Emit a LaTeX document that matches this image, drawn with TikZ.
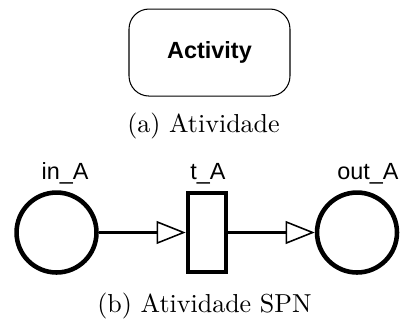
\documentclass[tikz,border=0pt]{standalone}
\usepackage{fontspec}
\newfontfamily\arialfont{Liberation Sans}
\usepackage{tikz}
\usetikzlibrary{arrows.meta, positioning}

\begin{document}
\begin{tikzpicture}[
    activity/.style={rectangle, draw, rounded corners=0.27cm, line width=0.4pt, minimum width=2.176cm, minimum height=1.176cm, font=\arialfont\bfseries\fontsize{9}{10}\selectfont},
    place/.style={circle, draw, line width=1.75pt, minimum size=1.081cm, inner sep=0pt},
    trans/.style={rectangle, draw, line width=1.75pt, minimum width=0.514cm, minimum height=1.068cm, inner sep=0pt},
    lbl/.style={anchor=base, inner sep=0pt, font=\arialfont\fontsize{9}{10}\selectfont},
    caption/.style={anchor=base, inner sep=0pt},
    arc/.style={-{Triangle[open, length=11.2pt, width=8.8pt, line width=0.6pt]}, line width=1.3pt}
    ]
    \useasboundingbox (0,0) rectangle (5.488,-4.380);

    % Activity
    \node[activity] (act) at (2.832,-0.710) {Activity};
    \node[caption] (cap_a) at (2.751,-1.791) {(a) Atividade};

    % Places and transition
    \node[place] (in_A) at (0.764,-3.143) {};
    \node[trans] (t_A) at (2.798,-3.143) {};
    \node[place] (out_A) at (4.826,-3.143) {};

    \node[lbl] (in_A_lbl) at (0.879,-2.420) {in\_A};
    \node[lbl] (t_A_lbl) at (2.812,-2.420) {t\_A};
    \node[lbl] (out_A_lbl) at (4.974,-2.420) {out\_A};

    % Arcs
    \draw[arc] (in_A) -- (t_A);
    \draw[arc] (t_A) -- (out_A);

    \node[caption] (cap_b) at (2.764,-4.224) {(b) Atividade SPN};
\end{tikzpicture}
\end{document}
